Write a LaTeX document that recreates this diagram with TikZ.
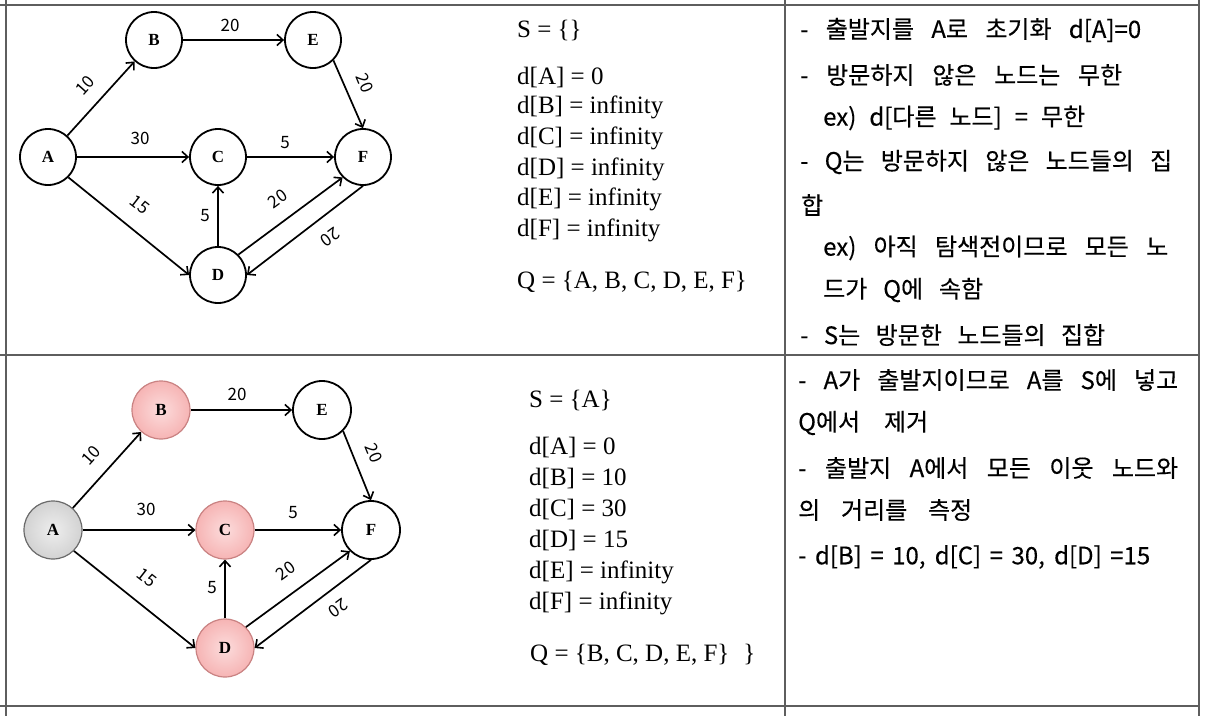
\documentclass[tikz,border=0pt]{standalone}
\usepackage{fontspec}
\setmainfont{Liberation Serif}
\newfontfamily\kr[FakeBold=0.3]{Noto Sans CJK KR}
\newfontfamily\lab{Noto Sans CJK KR}
\usetikzlibrary{arrows.meta}
\definecolor{pinkfill}{HTML}{F6B4B4}
\definecolor{pinkin}{HTML}{FCDCDC}
\definecolor{pinkdraw}{HTML}{C98282}
\definecolor{grayfill}{HTML}{D2D2D2}
\definecolor{grayin}{HTML}{EEEEEE}
\definecolor{graydraw}{HTML}{6A6A6A}
\definecolor{rulecol}{HTML}{5E5E5E}
\begin{document}
\begin{tikzpicture}[x=1pt,y=-1pt,
  vtx/.style={circle,draw=black,line width=1.8pt,minimum size=56pt,inner sep=0pt,
    font=\fontsize{17}{17}\selectfont\bfseries,fill=white},
  vtxb/.style={vtx,minimum size=58pt},
  visited/.style={draw=pinkdraw,line width=1.2pt,inner color=pinkin,outer color=pinkfill},
  source/.style={draw=graydraw,line width=1.2pt,inner color=grayin,outer color=grayfill},
  edge/.style={line width=1.7pt,-{Straight Barb[length=6pt,width=11pt,line width=1.6pt]}},
  wt/.style={font=\lab\fontsize{17}{17}\selectfont,inner sep=0pt},
  mid/.style={anchor=west,inner sep=0pt,font=\fontsize{25}{25}\selectfont},
  note/.style={anchor=west,inner sep=0pt,font=\kr\fontsize{24}{24}\selectfont},
  tbl/.style={draw=rulecol,line width=2pt}
]
\useasboundingbox (0,0) rectangle (1208,716);
% table rules
\draw[tbl] (0,5) -- (1199,5);
\draw[tbl] (0,355) -- (1199,355);
\draw[tbl] (0,706) -- (1199,706);
\draw[tbl] (6,0) -- (6,716);
\draw[tbl] (785,0) -- (785,716);
\draw[tbl] (1199,0) -- (1199,716);

% ---------- top graph ----------
\node[vtx] (tA) at (48,157) {A};
\node[vtx] (tB) at (154,40) {B};
\node[vtx] (tE) at (313,40) {E};
\node[vtx] (tC) at (218,157) {C};
\node[vtx] (tF) at (363,157) {F};
\node[vtx] (tD) at (218,275) {D};
\draw[edge] (tA) -- (tB);
\draw[edge] (tB) -- (tE);
\draw[edge] (tE.-45) -- (tF.north);
\draw[edge] (tA) -- (tC);
\draw[edge] (tC) -- (tF);
\draw[edge] (tA.-45) -- (tD.west);
\draw[edge] (tD) -- (tC);
\draw[edge] (tD.45) -- (tF.225);
\draw[edge] (tF.south) -- (tD.east);
\node[wt,rotate=48] (tw1) at (85,85) {10};
\node[wt] (tw2) at (230,25) {20};
\node[wt,rotate=-68] (tw3) at (365,83) {20};
\node[wt] (tw4) at (140,138) {30};
\node[wt] (tw5) at (285,143) {5};
\node[wt,rotate=-38] (tw6) at (140,205) {15};
\node[wt] (tw7) at (205,216) {5};
\node[wt,rotate=36] (tw8) at (278,199) {20};
\node[wt,rotate=216] (tw9) at (330,237) {20};

% ---------- bottom graph ----------
\node[vtxb,source] (bA) at (53,530) {A};
\node[vtxb,visited] (bB) at (161,410) {B};
\node[vtxb] (bE) at (322,410) {E};
\node[vtxb,visited] (bC) at (225,530) {C};
\node[vtxb] (bF) at (371,530) {F};
\node[vtxb,visited] (bD) at (225,648) {D};
\draw[edge] (bA) -- (bB);
\draw[edge] (bB) -- (bE);
\draw[edge] (bE.-45) -- (bF.north);
\draw[edge] (bA) -- (bC);
\draw[edge] (bC) -- (bF);
\draw[edge] (bA.-45) -- (bD.west);
\draw[edge] (bD) -- (bC);
\draw[edge] (bD.45) -- (bF.225);
\draw[edge] (bF.south) -- (bD.east);
\node[wt,rotate=48] (bw1) at (91,455) {10};
\node[wt] (bw2) at (237,394) {20};
\node[wt,rotate=-68] (bw3) at (374,453) {20};
\node[wt] (bw4) at (146,509) {30};
\node[wt] (bw5) at (293,513) {5};
\node[wt,rotate=-38] (bw6) at (147,578) {15};
\node[wt] (bw7) at (212,588) {5};
\node[wt,rotate=36] (bw8) at (286,571) {20};
\node[wt,rotate=216] (bw9) at (338,608) {20};

% ---------- middle column ----------
\node[mid] (ts) at (517,30) {S = \{\}};
\node[mid] (tdA) at (517,77) {d[A] = 0};
\node[mid] (tdB) at (517,107) {d[B] = infinity};
\node[mid] (tdC) at (517,138) {d[C] = infinity};
\node[mid] (tdD) at (517,169) {d[D] = infinity};
\node[mid] (tdE) at (517,199) {d[E] = infinity};
\node[mid] (tdF) at (517,230) {d[F] = infinity};
\node[mid] (tq) at (517,282) {Q = \{A, B, C, D, E, F\}};

\node[mid] (bs) at (529,400) {S = \{A\}};
\node[mid] (bdA) at (529,447) {d[A] = 0};
\node[mid] (bdB) at (529,478) {d[B] = 10};
\node[mid] (bdC) at (529,509) {d[C] = 30};
\node[mid] (bdD) at (529,540) {d[D] = 15};
\node[mid] (bdE) at (529,572) {d[E] = infinity};
\node[mid] (bdF) at (529,603) {d[F] = infinity};
\node[mid] (bq) at (530,655) {Q = \{B, C, D, E, F\}\hspace{14pt}\}};

% ---------- right column ----------
\node[note] (tn1) at (800,30) {\makebox[341pt][s]{- 출발지를 A로 초기화 d[A]=0}};
\node[note] (tn2) at (800,75) {\makebox[322pt][s]{- 방문하지 않은 노드는 무한}};
\node[note] (tn3) at (823,118) {\makebox[262pt][s]{ex) d[다른 노드] = 무한}};
\node[note] (tn4) at (800,162) {\makebox[372pt][s]{- Q는 방문하지 않은 노드들의 집}};
\node[note] (tn5) at (801,205) {합};
\node[note] (tn6) at (823,248) {\makebox[345pt][s]{ex) 아직 탐색전이므로 모든 노}};
\node[note] (tn7) at (823,290) {\makebox[160pt][s]{드가 Q에 속함}};
\node[note] (tn8) at (800,335) {\makebox[305pt][s]{- S는 방문한 노드들의 집합}};

\node[note] (bn1) at (798,380) {\makebox[380pt][s]{- A가 출발지이므로 A를 S에 넣고}};
\node[note] (bn2) at (798,423) {\makebox[130pt][s]{Q에서 제거}};
\node[note] (bn3) at (798,468) {\makebox[380pt][s]{- 출발지 A에서 모든 이웃 노드와}};
\node[note] (bn4) at (798,510) {\makebox[174pt][s]{의 거리를 측정}};
\node[note] (bn5) at (798,557) {\makebox[352pt][s]{- d[B] = 10, d[C] = 30, d[D] =15}};
\end{tikzpicture}
\end{document}
